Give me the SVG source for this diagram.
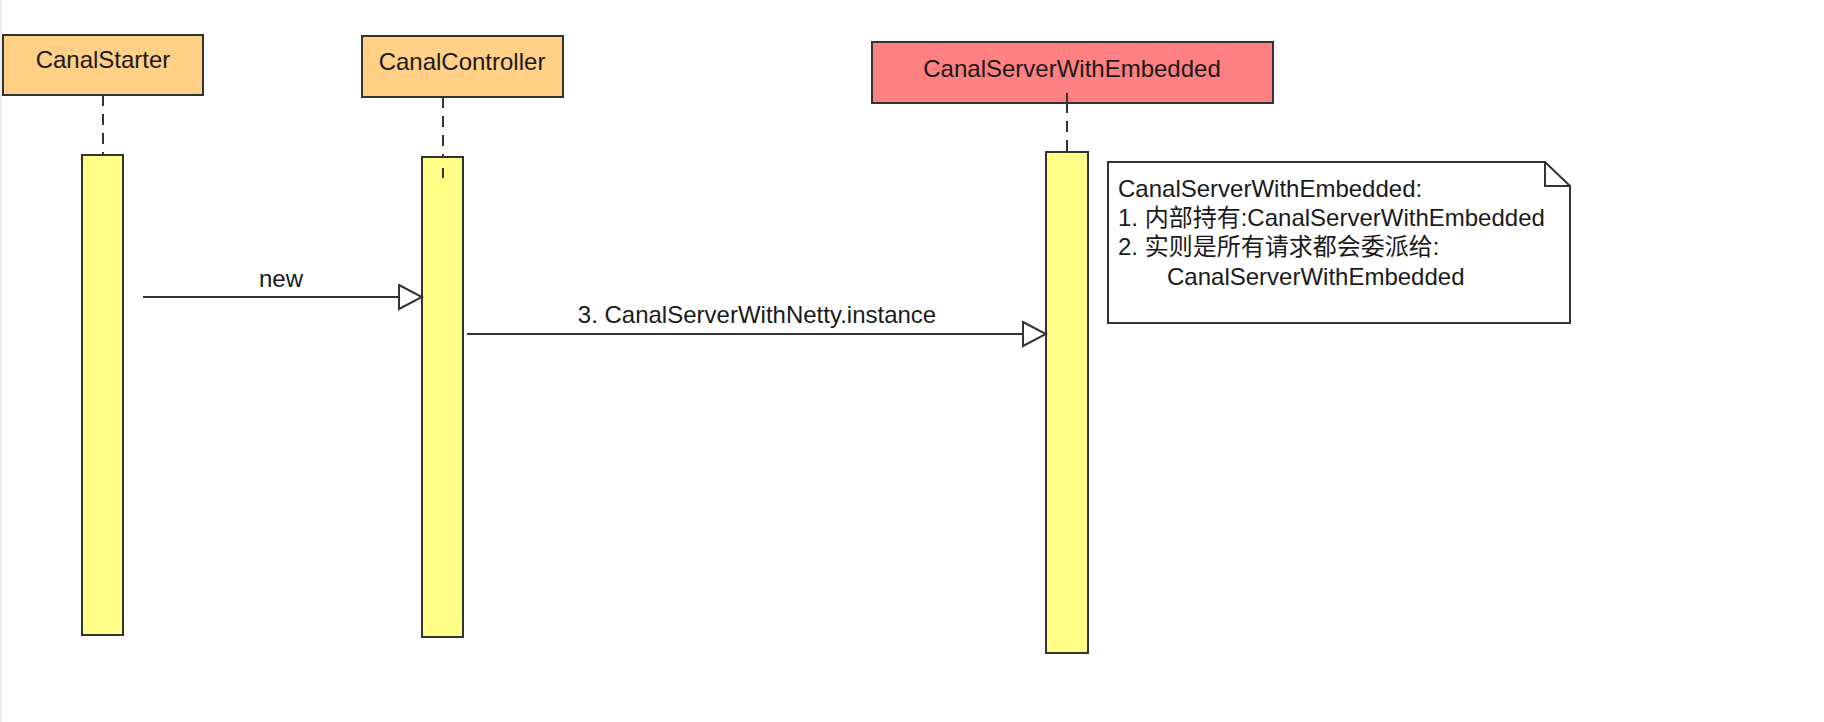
<svg xmlns="http://www.w3.org/2000/svg" width="1824" height="722" viewBox="0 0 1824 722">
<defs>
<style>
.lbl{font-family:"Liberation Sans",Arial,Helvetica,"Noto Sans CJK SC",sans-serif;font-size:24px;fill:#1a1a1a}
.head{stroke:#333;stroke-width:2}
.orange{fill:#FFD085}
.red{fill:#FF8080}
.act{fill:#FFFF88;stroke:#333;stroke-width:2}
.life{stroke:#333;stroke-width:2;stroke-dasharray:11 8;fill:none}
.msg{stroke:#333;stroke-width:2;fill:none}
.note{fill:#fff;stroke:#333;stroke-width:2}
</style>
<marker id="open" markerWidth="26" markerHeight="28" refX="24" refY="13" orient="auto" markerUnits="userSpaceOnUse">
<path d="M1,1 L24,13 L1,25 Z" fill="#fff" stroke="#333" stroke-width="2"/>
</marker>
</defs>
<rect x="0" y="0" width="1824" height="722" fill="#fff"/>
<rect x="0" y="0" width="2" height="722" fill="#eeeeee"/>

<g id="canalStarter">
<line class="life" x1="103" y1="95" x2="103" y2="155"/>
<rect class="head orange" x="3" y="35" width="200" height="60"/>
<text class="lbl" x="103" y="68" text-anchor="middle">CanalStarter</text>
<rect class="act" x="82" y="155" width="41" height="480"/>
</g>

<g id="canalController">
<line class="life" x1="443" y1="97" x2="443" y2="157"/>
<rect class="head orange" x="362" y="36" width="201" height="61"/>
<text class="lbl" x="462" y="70" text-anchor="middle">CanalController</text>
<rect class="act" x="422" y="157" width="41" height="480"/>
<line x1="443" y1="168" x2="443" y2="178" stroke="#333" stroke-width="2"/>
</g>

<g id="canalServerWithEmbedded">
<line class="life" x1="1067" y1="83" x2="1067" y2="152"/>
<rect class="head red" x="872" y="42" width="401" height="61"/>
<line class="life" x1="1067" y1="93" x2="1067" y2="103"/>
<text class="lbl" x="1072" y="77" text-anchor="middle">CanalServerWithEmbedded</text>
<rect class="act" x="1046" y="152" width="42" height="501"/>
</g>

<g id="note">
<path class="note" d="M1108,162 L1545,162 L1570,186 L1570,323 L1108,323 Z"/>
<path d="M1545,162 L1545,186 L1570,186" fill="none" stroke="#333" stroke-width="2"/>
<text class="lbl" x="1118" y="197">CanalServerWithEmbedded:</text>
<text class="lbl" x="1118" y="226">1. 内部持有:CanalServerWithEmbedded</text>
<text class="lbl" x="1118" y="255">2. 实则是所有请求都会委派给:</text>
<text class="lbl" x="1167" y="285">CanalServerWithEmbedded</text>
</g>

<g id="connectors">
<line class="msg" x1="143" y1="297" x2="422" y2="297" marker-end="url(#open)"/>
<text class="lbl" x="281" y="287" text-anchor="middle">new</text>
<line class="msg" x1="467" y1="334" x2="1046" y2="334" marker-end="url(#open)"/>
<text class="lbl" x="757" y="323" text-anchor="middle">3. CanalServerWithNetty.instance</text>
</g>
</svg>
